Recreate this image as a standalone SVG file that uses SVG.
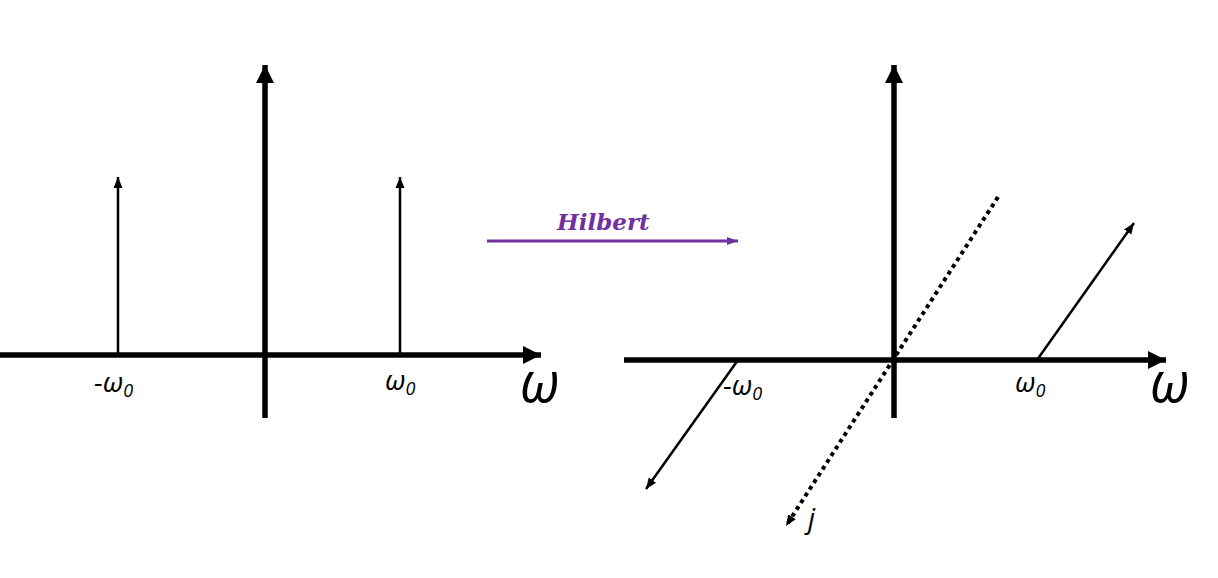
<svg xmlns="http://www.w3.org/2000/svg" width="1218" height="578" viewBox="0 0 1218 578">
<style>
.ax{stroke:#000;stroke-width:5.5;fill:none}
.imp{stroke:#000;stroke-width:2.5;fill:none}
.lbl{font-family:"Open Sans","Liberation Sans",sans-serif;font-style:italic;font-size:28px;fill:#000}
.sub{font-size:18px}
.big{font-family:"Open Sans","Liberation Sans",sans-serif;font-style:italic;font-size:54px;fill:#000}
</style>
<defs>
<marker id="big" markerUnits="userSpaceOnUse" markerWidth="20" markerHeight="20" viewBox="0 0 20 20" refX="18" refY="10" orient="auto"><path d="M0,1 L18,10 L0,19 Z" fill="#000"/></marker>
<marker id="sm" markerUnits="userSpaceOnUse" markerWidth="12" markerHeight="12" viewBox="0 0 12 12" refX="11" refY="6" orient="auto"><path d="M0,1.5 L11,6 L0,10.5 Z" fill="#000"/></marker>
<marker id="pm" markerUnits="userSpaceOnUse" markerWidth="12" markerHeight="12" viewBox="0 0 12 12" refX="11" refY="6" orient="auto"><path d="M0,2 L11,6 L0,10 Z" fill="#7030A0"/></marker>
</defs>
<g id="connectors">
<line class="ax" x1="0" y1="355" x2="541" y2="355" marker-end="url(#big)"/>
<line class="ax" x1="265" y1="418" x2="265" y2="65" marker-end="url(#big)"/>
<line class="imp" x1="118" y1="355" x2="118" y2="177" marker-end="url(#sm)"/>
<line class="imp" x1="400" y1="355" x2="400" y2="177" marker-end="url(#sm)"/>
<line x1="487" y1="241" x2="738" y2="241" stroke="#7030A0" stroke-width="3" marker-end="url(#pm)"/>
<line class="ax" x1="624" y1="360" x2="1166" y2="360" marker-end="url(#big)"/>
<line class="ax" x1="894" y1="418" x2="894" y2="65" marker-end="url(#big)"/>
<line x1="998" y1="197" x2="786" y2="526" stroke="#000" stroke-width="4" stroke-dasharray="4,4" marker-end="url(#sm)"/>
<line class="imp" x1="1037" y1="360" x2="1134" y2="223" marker-end="url(#sm)"/>
<line class="imp" x1="738" y1="360" x2="646" y2="489" marker-end="url(#sm)"/>
</g>
<g id="labels">
<text class="lbl" x="94" y="392">-ω<tspan class="sub" dy="5">0</tspan></text>
<text class="lbl" x="385" y="390">ω<tspan class="sub" dy="5">0</tspan></text>
<text class="big" x="520" y="402">ω</text>
<text x="557" y="230" font-family="'DejaVu Serif','Liberation Serif',serif" font-style="italic" font-weight="bold" font-size="23" fill="#7030A0">Hilbert</text>
<text class="lbl" x="723" y="395">-ω<tspan class="sub" dy="5">0</tspan></text>
<text class="lbl" x="1015" y="392">ω<tspan class="sub" dy="5">0</tspan></text>
<text class="big" x="1150" y="402">ω</text>
<text class="lbl" x="808" y="528">j</text>
</g>
</svg>
